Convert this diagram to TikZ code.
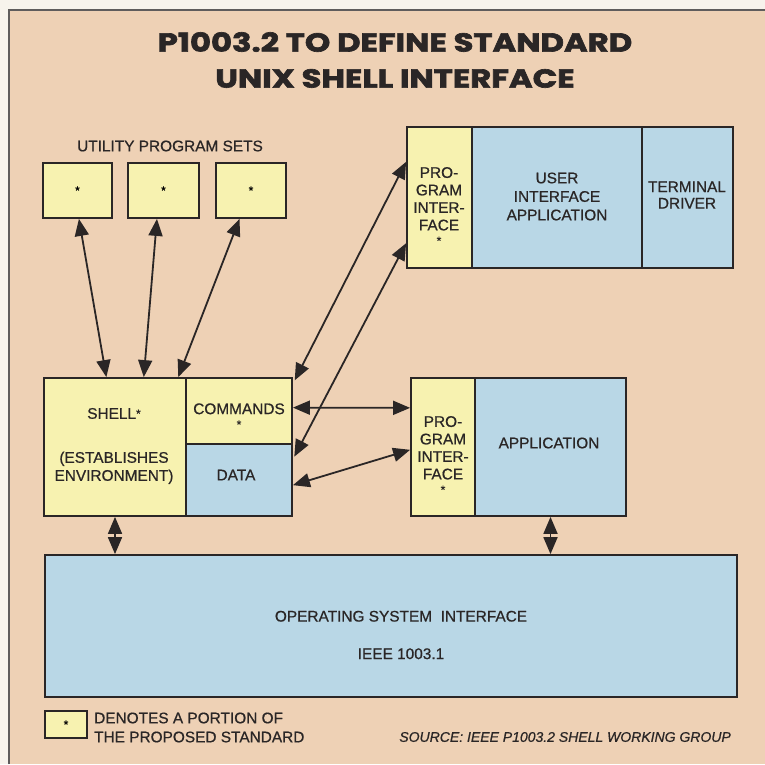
\documentclass[tikz,border=0pt]{standalone}
\usepackage{fontspec}
\setmainfont{Liberation Sans}[FakeBold=0.7]
\newfontfamily\titlefont{Poppins}[BoldFeatures={FakeBold=2.5,FakeStretch=1.24}]
\usetikzlibrary{arrows.meta,calc}
\definecolor{paper}{HTML}{F7F3EC}
\definecolor{peach}{HTML}{EED1B5}
\definecolor{stdyel}{HTML}{F7F2B0}
\definecolor{extblue}{HTML}{B9D7E6}
\definecolor{ink}{HTML}{2A2626}
\newcommand\stdmark{{\fontsize{12}{12}\selectfont*}}
\begin{document}
\begin{tikzpicture}[x=1pt,y=-1pt,
  cell/.style={draw=ink, line width=1.8pt, inner sep=0pt},
  std/.style={cell, fill=stdyel},
  ext/.style={cell, fill=extblue},
  lbl/.style={text=ink, inner sep=0pt, align=center, font=\fontsize{15.4}{17.5}\selectfont},
  link/.style={draw=ink, line width=1.8pt, {Triangle[length=17pt,width=14pt]}-{Triangle[length=17pt,width=14pt]}}]
\useasboundingbox (0,0) rectangle (765,764);
\fill[paper] (0,0) rectangle (765,764);
\fill[peach] (9,10) rectangle (765,764);
\draw[ink!75, line width=1.5pt] (9,764) -- (9,10) -- (765,10);
\node[text=ink, align=center, font=\titlefont\bfseries\fontsize{26}{36}\selectfont] (title) at (395,60) {P1003.2 TO DEFINE STANDARD\\UNIX SHELL INTERFACE};
\node[lbl] (ups) at (170,146) {UTILITY PROGRAM SETS};
\node[std, minimum width=69pt, minimum height=55pt] (u1) at (77.5,190.5) {\stdmark};
\node[std, minimum width=71pt, minimum height=55pt] (u2) at (163.5,190.5) {\stdmark};
\node[std, minimum width=70pt, minimum height=55pt] (u3) at (251,190.5) {\stdmark};
\node[std, minimum width=65pt, minimum height=141pt] (pi1) at (439.5,197.5) {};
\node[ext, minimum width=170pt, minimum height=141pt] (uia) at (557,197.5) {};
\node[ext, minimum width=91pt, minimum height=141pt] (td) at (687.5,197.5) {};
\node[lbl] (pi1t) at (439,206) {PRO-\\GRAM\\INTER-\\FACE\\[-3pt]\stdmark};
\node[lbl, font=\fontsize{15.4}{18.5}\selectfont] (uiat) at (557,196.5) {USER\\INTERFACE\\APPLICATION};
\node[lbl, font=\fontsize{15.4}{16.5}\selectfont] (tdt) at (687,195) {TERMINAL\\DRIVER};
\node[std, minimum width=142pt, minimum height=138pt] (shell) at (115,447) {};
\node[std, minimum width=106pt, minimum height=66pt] (commands) at (239,411) {};
\node[ext, minimum width=106pt, minimum height=72pt] (data) at (239,480) {};
\node[lbl, font=\fontsize{15.4}{18}\selectfont] (shellt) at (114,446) {SHELL\raisebox{1pt}{\stdmark}\\[26pt](ESTABLISHES\\ENVIRONMENT)};
\node[lbl] (commandst) at (239,416) {COMMANDS\\[-3pt]\stdmark};
\node[lbl] (datat) at (236,475) {DATA};
\node[std, minimum width=64pt, minimum height=138pt] (pi2) at (443,447) {};
\node[ext, minimum width=151pt, minimum height=138pt] (app) at (550.5,447) {};
\node[lbl] (pi2t) at (443,455) {PRO-\\GRAM\\INTER-\\FACE\\[-3pt]\stdmark};
\node[lbl] (appt) at (549,443) {APPLICATION};
\node[ext, minimum width=692pt, minimum height=142pt] (os) at (391,626) {};
\node[lbl] (ost) at (401,635) {OPERATING SYSTEM\ \ INTERFACE\\[20pt]IEEE 1003.1};
\node[std, minimum width=42pt, minimum height=27pt] (key) at (66,724.5) {\stdmark};
\node[lbl, anchor=west, align=left, font=\fontsize{15.4}{19}\selectfont] (keyt) at (94,727.5) {DENOTES A PORTION OF\\THE PROPOSED STANDARD};
\node[lbl, anchor=east, font=\itshape\fontsize{14}{16}\selectfont] (src) at (731,737) {SOURCE: IEEE P1003.2 SHELL WORKING GROUP};
\draw[link] ($(u1.south west)!.52!(u1.south east)$) -- ($(shell.north west)!.44!(shell.north east)$);
\draw[link] ($(u2.south west)!.41!(u2.south east)$) -- ($(shell.north west)!.70!(shell.north east)$);
\draw[link] ($(u3.south west)!.34!(u3.south east)$) -- ($(shell.north west)!.94!(shell.north east)$);
\draw[link, shorten <=4pt] ($(commands.north east)!.1!(commands.south east)$) -- ($(pi1.north west)!.25!(pi1.south west)$);
\draw[link, shorten <=3pt] ($(data.north east)!.22!(data.south east)$) -- ($(pi1.north west)!.82!(pi1.south west)$);
\draw[link] ($(commands.north east)!.45!(commands.south east)$) -- ($(pi2.north west)!.22!(pi2.south west)$);
\draw[link] ($(data.north east)!.57!(data.south east)$) -- ($(pi2.north west)!.52!(pi2.south west)$);
\draw[link] (shell.south) -- (shell.south |- os.north);
\draw[link] (app.south) -- (app.south |- os.north);
\end{tikzpicture}
\end{document}
